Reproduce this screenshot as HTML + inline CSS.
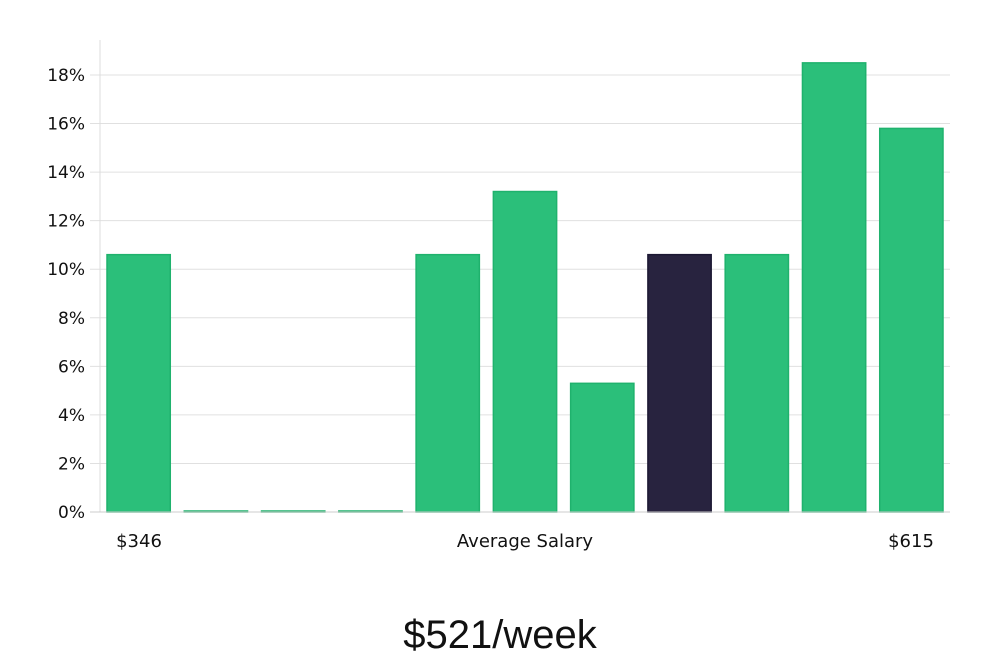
<!DOCTYPE html>
<html><head><meta charset="utf-8"><style>
html,body{margin:0;padding:0;background:#fff;}
svg{display:block;font-family:"DejaVu Sans","Liberation Sans",sans-serif;}
</style></head><body>
<svg id="chart" width="1000" height="660">
  <g id="grid"></g>
  <g id="bars"></g>
  <g id="yaxis"></g>
  <line x1="100" y1="40" x2="100" y2="512" stroke="#ddd" stroke-width="1"/>
  <line x1="90" y1="512" x2="950" y2="512" stroke="#ccc" stroke-width="1"/>
  <text x="139" y="547" font-size="18" text-anchor="middle" fill="#111">$346</text>
  <text x="525" y="547" font-size="18" text-anchor="middle" fill="#111">Average Salary</text>
  <text x="911" y="547" font-size="18" text-anchor="middle" fill="#111">$615</text>
  <text x="500" y="648" font-size="40" text-anchor="middle" fill="#111" font-family="Liberation Sans, sans-serif" font-weight="300">$521/week</text>
</svg>
<script>
const categories = ["b1","b2","b3","b4","b5","b6","b7","b8","b9","b10","b11"];
const values = [10.6, 0, 0, 0, 10.6, 13.2, 5.3, 10.6, 10.6, 18.5, 15.8];
const highlight = [false,false,false,false,false,false,false,true,false,false,false];
const ticks = [0,2,4,6,8,10,12,14,16,18];
const tickLabels = ["0%","2%","4%","6%","8%","10%","12%","14%","16%","18%"];

const NS = "http://www.w3.org/2000/svg";
const x0 = 100, x1 = 950, yBase = 512, yTop18 = 75;
const y = v => yBase - v * (yBase - yTop18) / 18;
const band = (x1 - x0) / categories.length;
const xb = i => x0 + i * band + 7;
const bw = band - 14;

const grid = document.getElementById('grid');
const yaxis = document.getElementById('yaxis');
ticks.forEach((t, i) => {
  const l = document.createElementNS(NS, 'line');
  l.setAttribute('x1', 90); l.setAttribute('x2', x1);
  l.setAttribute('y1', y(t)); l.setAttribute('y2', y(t));
  l.setAttribute('stroke', '#e0e0e0');
  
  
  grid.appendChild(l);
  const tx = document.createElementNS(NS, 'text');
  tx.setAttribute('x', 85); tx.setAttribute('y', y(t) + 6);
  tx.setAttribute('text-anchor', 'end'); tx.setAttribute('font-size', '17');
  tx.setAttribute('fill', '#111');
  tx.textContent = tickLabels[i];
  
  
  yaxis.appendChild(tx);
});
const bars = document.getElementById('bars');
values.forEach((v, i) => {
  const r = document.createElementNS(NS, 'rect');
  const top = y(v);
  r.setAttribute('x', xb(i)); r.setAttribute('width', bw);
  r.setAttribute('y', Math.min(top, yBase - 1)); r.setAttribute('height', Math.max(yBase - top, 1));
  r.setAttribute('fill', highlight[i] ? '#28233f' : '#2bbf7a');
  r.setAttribute('stroke', highlight[i] ? '#1c1833' : '#1fb26d');
  r.setAttribute('stroke-width', '1.5');
  
  
  bars.appendChild(r);
});
</script>
</body></html>
